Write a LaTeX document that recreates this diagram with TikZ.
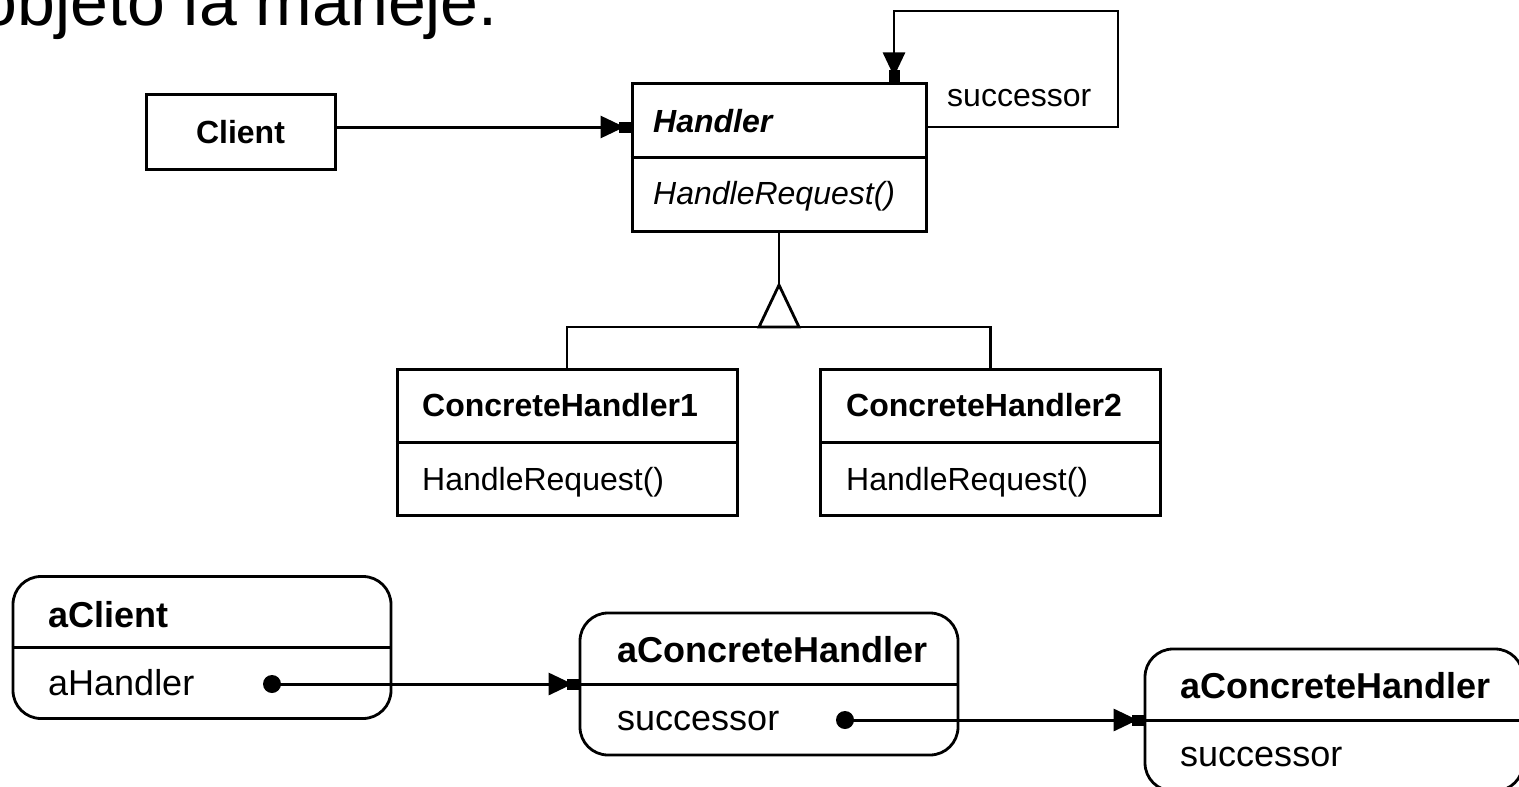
\documentclass[tikz,border=0pt]{standalone}
\usepackage{fontspec}
\setmainfont{Liberation Sans}
\usetikzlibrary{arrows.meta,calc}

\newcommand\clsfont{\fontsize{32bp}{38bp}\selectfont}
\newcommand\objfont{\fontsize{36bp}{42bp}\selectfont}
\newcommand\slidefont{\fontsize{68bp}{80bp}\selectfont}

\tikzset{
  classbox/.style={draw, line width=3bp, inner sep=0, minimum width=#1},
  objbox/.style={draw, line width=2.8bp, rounded corners=28bp, inner sep=0,
    minimum width=378bp, minimum height=142bp},
  rule/.style={line width=3bp},
  nav/.style={line width=3bp,
    -{Triangle[length=24bp,width=22bp,sep=-6bp]Rectangle[length=12bp,width=11bp]}},
  gen/.style={line width=2.8bp},
  refdot/.style={circle, fill, inner sep=0, minimum size=18bp},
  lbl/.style={anchor=base west, inner sep=0},
}

\begin{document}
\begin{tikzpicture}[x=1bp,y=-1bp]
\useasboundingbox (0,0) rectangle (1519,786);

% heading line of the slide
\node[anchor=base east, inner sep=0, font=\slidefont] (heading) at (498,26) {objeto la maneje.};

% ---------- class diagram ----------
\node[classbox=189bp, minimum height=74bp, font=\clsfont\bfseries] (client) at (240.5,132) {Client};

\node[classbox=294bp, minimum height=147bp] (handler) at (779,157.5) {};
\draw[rule] (handler.west) -- (handler.east);
\node[lbl, font=\clsfont\bfseries\itshape] (hname) at (653,132) {Handler};
\node[lbl, font=\clsfont\itshape] (hop) at (653,204) {HandleRequest()};

\node[classbox=340bp, minimum height=146bp] (ch1) at (567,442) {};
\draw[rule] (ch1.west) -- (ch1.east);
\node[lbl, font=\clsfont\bfseries] (ch1name) at (422,416) {ConcreteHandler1};
\node[lbl, font=\clsfont] (ch1op) at (422,490) {HandleRequest()};

\node[classbox=340bp, minimum height=146bp] (ch2) at (990.5,442) {};
\draw[rule] (ch2.west) -- (ch2.east);
\node[lbl, font=\clsfont\bfseries] (ch2name) at (846,416) {ConcreteHandler2};
\node[lbl, font=\clsfont] (ch2op) at (846,490) {HandleRequest()};

% client -> handler
\coordinate (navrow) at (0,127);
\draw[nav] (client.east |- navrow) -- (handler.west |- navrow);

% successor self association
\coordinate (loopNE) at (1118,11);
\coordinate (loopIn) at (894,0);
\draw[nav, line width=2.6bp] (handler.east |- navrow) -| (loopNE) -| (handler.north -| loopIn);
\node[lbl, font=\clsfont] (succ) at (947,106) {successor};

% generalization
\coordinate (genbar) at (779,327);
\coordinate (genapex) at (779,285);
\draw[gen] (handler.south) -- (genapex);
\draw[gen] (ch1.north) |- (genbar) -| (ch2.north);
\draw[gen, fill=white] ($(genbar)+(-20,0)$) -- (genapex) -- ($(genbar)+(20,0)$) -- cycle;

% ---------- object diagram ----------
\node[objbox] (aclient) at (202,647.5) {};
\draw[rule] (aclient.west) -- (aclient.east);
\node[lbl, font=\objfont\bfseries] (acname) at (48,627) {aClient};
\node[lbl, font=\objfont] (acfield) at (48,695) {aHandler};

\node[objbox] (hone) at (769,684) {};
\draw[rule] (hone.west) -- (hone.east);
\node[lbl, font=\objfont\bfseries] (honame) at (617,662) {aConcreteHandler};
\node[lbl, font=\objfont] (hofield) at (617,730) {successor};

\node[objbox] (htwo) at (1334,720) {};
\draw[rule] (htwo.west) -- (htwo.east);
\node[lbl, font=\objfont\bfseries] (htname) at (1180,698) {aConcreteHandler};
\node[lbl, font=\objfont] (htfield) at (1180,766) {successor};

\node[refdot] (dotone) at (272,684) {};
\node[refdot] (dottwo) at (845,720) {};
\draw[nav] (dotone.center) -- (hone.west |- dotone);
\draw[nav] (dottwo.center) -- (htwo.west |- dottwo);
\end{tikzpicture}
\end{document}
